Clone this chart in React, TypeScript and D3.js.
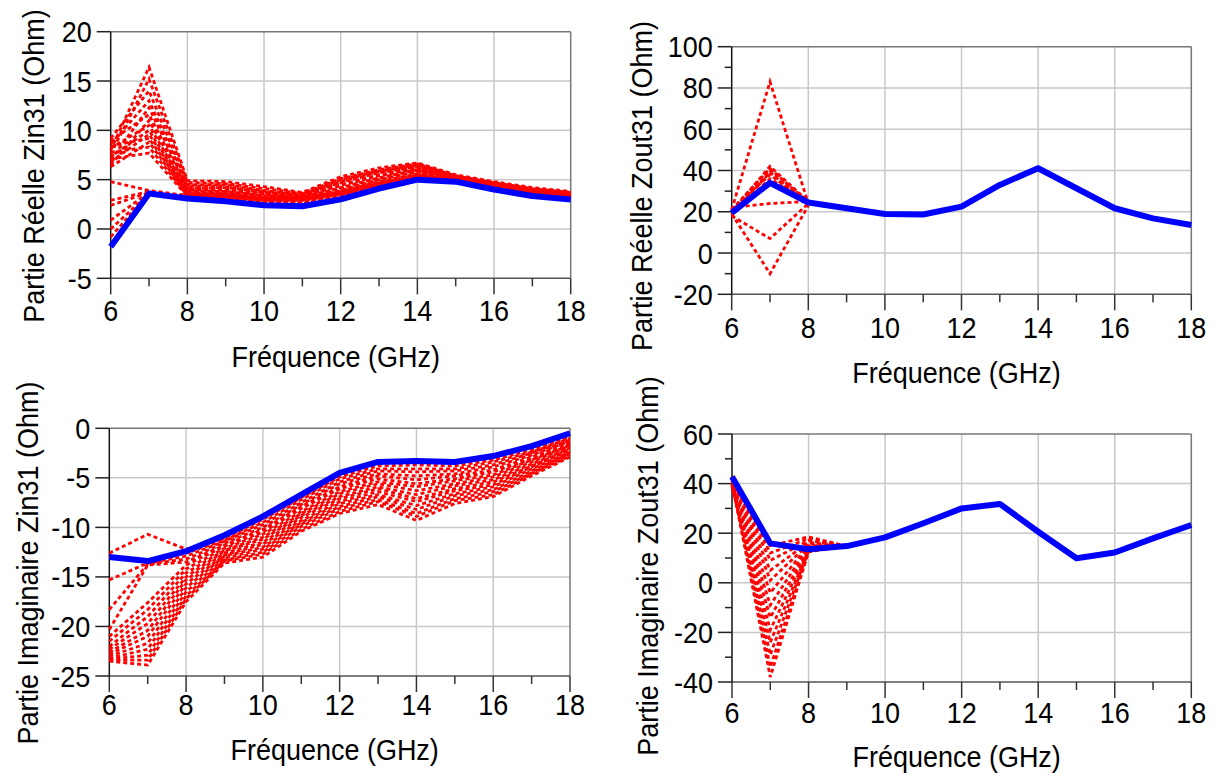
import React from 'react';
import * as d3 from 'd3';

const FREQ = [6, 7, 8, 9, 10, 11, 12, 13, 14, 15, 16, 17, 18];
const X_MAJOR = [6, 8, 10, 12, 14, 16, 18];
const X_MINOR = [7, 9, 11, 13, 15, 17];

// ---- Top-left: Partie Réelle Zin31
const TL_Y_TICKS = [-5, 0, 5, 10, 15, 20];
const TL_BLUE = [-1.8, 3.6, 3.1, 2.8, 2.4, 2.3, 3.0, 4.1, 5.0, 4.8, 4.0, 3.35, 3.0];
const TL_RED = [
  [8.0, 16.4, 4.9, 4.8, 4.3, 3.7, 5.3, 6.2, 6.7, 5.5, 4.8, 4.2, 3.8],
  [7.6, 15.2, 4.7, 4.6, 4.1, 3.6, 5.1, 6.0, 6.6, 5.4, 4.7, 4.1, 3.7],
  [9.2, 14.0, 4.5, 4.5, 3.9, 3.5, 5.0, 5.9, 6.5, 5.3, 4.7, 4.0, 3.7],
  [8.6, 13.0, 4.4, 4.3, 3.8, 3.4, 4.8, 5.8, 6.4, 5.3, 4.6, 4.0, 3.6],
  [7.0, 12.3, 4.2, 4.2, 3.7, 3.4, 4.7, 5.7, 6.3, 5.2, 4.6, 3.9, 3.6],
  [8.9, 11.6, 4.1, 4.1, 3.6, 3.3, 4.5, 5.5, 6.2, 5.2, 4.5, 3.9, 3.6],
  [6.5, 11.0, 4.0, 3.9, 3.5, 3.3, 4.4, 5.4, 6.1, 5.1, 4.5, 3.8, 3.5],
  [8.2, 10.5, 3.9, 3.8, 3.4, 3.2, 4.2, 5.2, 6.0, 5.1, 4.4, 3.8, 3.5],
  [7.3, 10.0, 3.8, 3.7, 3.3, 3.2, 4.1, 5.1, 5.9, 5.0, 4.4, 3.8, 3.5],
  [6.8, 9.6, 3.7, 3.6, 3.2, 3.1, 3.9, 5.0, 5.8, 5.0, 4.3, 3.7, 3.5],
  [8.4, 9.2, 3.6, 3.5, 3.1, 3.1, 3.8, 4.8, 5.6, 4.9, 4.3, 3.7, 3.4],
  [6.3, 8.8, 3.5, 3.4, 3.0, 3.0, 3.7, 4.7, 5.5, 4.9, 4.2, 3.6, 3.4],
  [7.8, 8.3, 3.4, 3.3, 3.0, 3.0, 3.6, 4.6, 5.4, 4.8, 4.2, 3.6, 3.4],
  [7.1, 7.7, 3.3, 3.2, 2.9, 2.9, 3.5, 4.5, 5.3, 4.8, 4.1, 3.5, 3.3],
  [4.8, 3.9, 3.4, 3.2, 2.9, 2.8, 3.4, 4.4, 5.2, 4.8, 4.1, 3.5, 3.3],
  [2.9, 3.8, 3.3, 3.1, 2.8, 2.7, 3.3, 4.3, 5.2, 4.8, 4.1, 3.5, 3.3],
  [2.4, 3.7, 3.2, 3.0, 2.7, 2.6, 3.2, 4.3, 5.1, 4.8, 4.0, 3.4, 3.2],
  [0.9, 3.7, 3.2, 3.0, 2.6, 2.5, 3.1, 4.2, 5.1, 4.8, 4.0, 3.4, 3.2],
  [0.0, 3.6, 3.1, 2.9, 2.5, 2.4, 3.0, 4.2, 5.1, 4.8, 4.0, 3.4, 3.2],
  [-0.8, 3.6, 3.1, 2.9, 2.5, 2.3, 3.0, 4.1, 5.0, 4.8, 4.0, 3.4, 3.1],
];

// ---- Top-right: Partie Réelle Zout31
const TR_Y_TICKS = [-20, 0, 20, 40, 60, 80, 100];
const TR_Y_MINOR = [-10, 10, 30, 50, 70, 90];
const TR_BLUE = [19.5, 34.0, 24.5, 21.7, 18.9, 18.7, 22.5, 33.0, 41.1, 31.4, 21.7, 16.8, 13.6];
const TR_RED = [
  [21, 83, 24],
  [20, 42, 25],
  [21, 41, 24.5],
  [20, 40, 25],
  [19, 39, 24],
  [21, 38, 24],
  [19, 36, 24.5],
  [22, 24, 25],
  [18, 7, 24],
  [19, -10, 23],
];

// ---- Bottom-left: Partie Imaginaire Zin31
const BL_Y_TICKS = [-25, -20, -15, -10, -5, 0];
const BL_BLUE = [-13.0, -13.4, -12.4, -10.8, -8.9, -6.7, -4.5, -3.4, -3.3, -3.4, -2.8, -1.8, -0.5];
const BL_RED = [
  [-12.6, -10.7, -12.2, -11.1, -9.2, -7.0, -4.9, -3.8, -3.7, -3.8, -3.2, -2.2, -0.9],
  [-13.0, -13.5, -12.6, -11.3, -9.5, -7.2, -5.1, -4.1, -4.1, -4.1, -3.4, -2.4, -1.0],
  [-15.3, -13.6, -12.9, -11.4, -9.7, -7.5, -5.4, -4.3, -4.4, -4.3, -3.7, -2.5, -1.2],
  [-18.3, -13.7, -13.2, -11.6, -10.0, -7.7, -5.6, -4.6, -4.8, -4.6, -3.9, -2.7, -1.3],
  [-20.3, -13.8, -13.5, -11.8, -10.2, -7.9, -5.9, -4.8, -5.2, -4.8, -4.2, -2.9, -1.4],
  [-21.0, -17.6, -13.8, -11.9, -10.5, -8.1, -6.1, -5.1, -5.6, -5.1, -4.4, -3.1, -1.6],
  [-21.5, -18.3, -14.2, -12.1, -10.7, -8.4, -6.4, -5.4, -5.9, -5.3, -4.7, -3.2, -1.7],
  [-22.0, -19.0, -14.6, -12.3, -11.0, -8.6, -6.6, -5.6, -6.3, -5.6, -4.9, -3.4, -1.8],
  [-22.3, -19.7, -15.0, -12.4, -11.2, -8.8, -6.9, -5.9, -6.7, -5.8, -5.2, -3.6, -2.0],
  [-22.6, -20.4, -15.3, -12.6, -11.5, -9.0, -7.1, -6.1, -7.1, -6.1, -5.4, -3.8, -2.1],
  [-22.8, -21.0, -15.7, -12.8, -11.7, -9.3, -7.4, -6.4, -7.4, -6.3, -5.7, -3.9, -2.2],
  [-23.0, -21.7, -16.1, -12.9, -12.0, -9.5, -7.6, -6.7, -7.8, -6.6, -5.9, -4.1, -2.4],
  [-23.2, -22.3, -16.5, -13.1, -12.2, -9.7, -7.9, -6.9, -8.2, -6.8, -6.2, -4.3, -2.5],
  [-23.3, -22.9, -16.9, -13.3, -12.5, -9.9, -8.1, -7.2, -8.6, -7.1, -6.4, -4.5, -2.6],
  [-23.4, -23.4, -17.2, -13.4, -12.7, -10.2, -8.4, -7.4, -8.9, -7.3, -6.7, -4.6, -2.8],
  [-23.5, -23.9, -17.5, -13.6, -13.0, -10.4, -8.6, -7.7, -9.3, -7.6, -6.9, -4.8, -2.9],
];

// ---- Bottom-right: Partie Imaginaire Zout31
const BR_Y_TICKS = [-40, -20, 0, 20, 40, 60];
const BR_Y_MINOR = [-30, -10, 10, 30, 50];
const BR_BLUE = [42.8, 15.9, 13.5, 14.8, 18.3, 24.0, 30.0, 31.8, 20.6, 9.9, 12.2, 17.9, 23.3];
const BR_RED = [
  [43, 15, 18.5, 14.8],
  [42.5, 12, 17.8, 14.8],
  [42, 9, 17.0, 14.8],
  [41.5, 5, 16.3, 14.8],
  [41, 1, 15.6, 14.8],
  [40.5, -4, 15.0, 14.8],
  [40, -9, 14.5, 14.8],
  [39.5, -14, 14.0, 14.8],
  [39, -19, 13.6, 14.8],
  [39, -24, 13.2, 14.8],
  [39.5, -29, 12.9, 14.8],
  [40, -34, 12.7, 14.8],
  [40.5, -38, 12.5, 14.8],
];

const FONT = '"Liberation Sans", Arial, sans-serif';

type PanelProps = {
  box: { x0: number; x1: number; y0: number; y1: number };
  yTicks: number[];
  yMinor?: number[];
  blue: number[];
  reds: number[][];
  yLabel: string;
  xTickBase: number;
  xLabelBase: number;
  yLabelX: number;
  yLabelCY: number;
};

const T = (props: { x: number; y: number; rot?: number; anchor?: string; text: string }) => (
  <text
    transform={`translate(${props.x},${props.y}) rotate(${props.rot || 0}) scale(0.9,1)`}
    textAnchor={props.anchor || 'middle'}
    fontFamily={FONT}
    fontSize={30}
    fill="#000"
  >
    {props.text}
  </text>
);

function Panel(p: PanelProps) {
  const { box } = p;
  const x = d3.scaleLinear().domain([6, 18]).range([box.x0, box.x1]);
  const yDom = d3.extent(p.yTicks) as [number, number];
  const y = d3.scaleLinear().domain(yDom).range([box.y1, box.y0]);
  const line = d3
    .line<number>()
    .x((_, i) => x(FREQ[i]))
    .y((d) => y(d));
  const gridX = X_MAJOR.filter((v) => v > 6 && v < 18);
  const gridY = p.yTicks.filter((v) => v > yDom[0] && v < yDom[1]);
  const cx = (box.x0 + box.x1) / 2 - 5;
  return (
    <g>
      {gridX.map((v) => (
        <line key={'gx' + v} x1={x(v)} x2={x(v)} y1={box.y0} y2={box.y1} stroke="#c8c8c8" strokeWidth={1.5} />
      ))}
      {gridY.map((v) => (
        <line key={'gy' + v} x1={box.x0} x2={box.x1} y1={y(v)} y2={y(v)} stroke="#c8c8c8" strokeWidth={1.5} />
      ))}
      <line x1={box.x0} x2={box.x1} y1={box.y0} y2={box.y0} stroke="#777" strokeWidth={1.5} />
      <line x1={box.x1} x2={box.x1} y1={box.y0} y2={box.y1} stroke="#777" strokeWidth={1.5} />
      <line x1={box.x0} x2={box.x1} y1={box.y1} y2={box.y1} stroke="#555" strokeWidth={1.5} />
      <line x1={box.x0} x2={box.x0} y1={box.y0} y2={box.y1} stroke="#111" strokeWidth={1.5} />
      {X_MAJOR.map((v) => (
        <line key={'xt' + v} x1={x(v)} x2={x(v)} y1={box.y1} y2={box.y1 + 16} stroke="#333" strokeWidth={1.5} />
      ))}
      {X_MINOR.map((v) => (
        <line key={'xm' + v} x1={x(v)} x2={x(v)} y1={box.y1} y2={box.y1 + 8} stroke="#333" strokeWidth={1.5} />
      ))}
      {p.yTicks.map((v) => (
        <line key={'yt' + v} x1={box.x0 - 14} x2={box.x0} y1={y(v)} y2={y(v)} stroke="#222" strokeWidth={1.5} />
      ))}
      {(p.yMinor || []).map((v) => (
        <line key={'ym' + v} x1={box.x0 - 7} x2={box.x0} y1={y(v)} y2={y(v)} stroke="#222" strokeWidth={1.5} />
      ))}
      {X_MAJOR.map((v) => (
        <T key={'xl' + v} x={x(v)} y={p.xTickBase} text={String(v)} />
      ))}
      {p.yTicks.map((v) => (
        <T key={'yl' + v} x={box.x0 - 19} y={y(v) + 10.5} anchor="end" text={String(v)} />
      ))}
      <T x={cx} y={p.xLabelBase} text="Fréquence (GHz)" />
      <T x={p.yLabelX} y={p.yLabelCY} rot={-90} text={p.yLabel} />
      {p.reds.map((s, i) => (
        <path
          key={'r' + i}
          d={line(s) || ''}
          fill="none"
          stroke="#ff0000"
          strokeWidth={2.8}
          strokeDasharray="4 3"
        />
      ))}
      <path d={line(p.blue) || ''} fill="none" stroke="#0000ff" strokeWidth={6} strokeLinejoin="round" />
    </g>
  );
}

export default function App() {
  return (
    <svg
      width={1216}
      height={776}
      style={{ position: 'absolute', left: 0, top: 0, background: '#fff' }}
    >
      <rect width={1216} height={776} fill="#fff" />
      <Panel
        box={{ x0: 110.7, x1: 570.7, y0: 31.7, y1: 278.3 }}
        yTicks={TL_Y_TICKS}
        blue={TL_BLUE}
        reds={TL_RED}
        yLabel="Partie Réelle Zin31 (Ohm)"
        xTickBase={321}
        xLabelBase={367}
        yLabelX={44}
        yLabelCY={166}
      />
      <Panel
        box={{ x0: 731.7, x1: 1191.3, y0: 46.7, y1: 294.3 }}
        yTicks={TR_Y_TICKS}
        yMinor={TR_Y_MINOR}
        blue={TR_BLUE}
        reds={TR_RED}
        yLabel="Partie Réelle Zout31 (Ohm)"
        xTickBase={338}
        xLabelBase={383}
        yLabelX={652}
        yLabelCY={186}
      />
      <Panel
        box={{ x0: 109.3, x1: 570, y0: 428.3, y1: 676 }}
        yTicks={BL_Y_TICKS}
        blue={BL_BLUE}
        reds={BL_RED}
        yLabel="Partie Imaginaire Zin31 (Ohm)"
        xTickBase={715}
        xLabelBase={760}
        yLabelX={38}
        yLabelCY={563}
      />
      <Panel
        box={{ x0: 732, x1: 1191.3, y0: 434, y1: 682 }}
        yTicks={BR_Y_TICKS}
        yMinor={BR_Y_MINOR}
        blue={BR_BLUE}
        reds={BR_RED}
        yLabel="Partie Imaginaire Zout31 (Ohm)"
        xTickBase={723}
        xLabelBase={767}
        yLabelX={658}
        yLabelCY={566}
      />
    </svg>
  );
}
